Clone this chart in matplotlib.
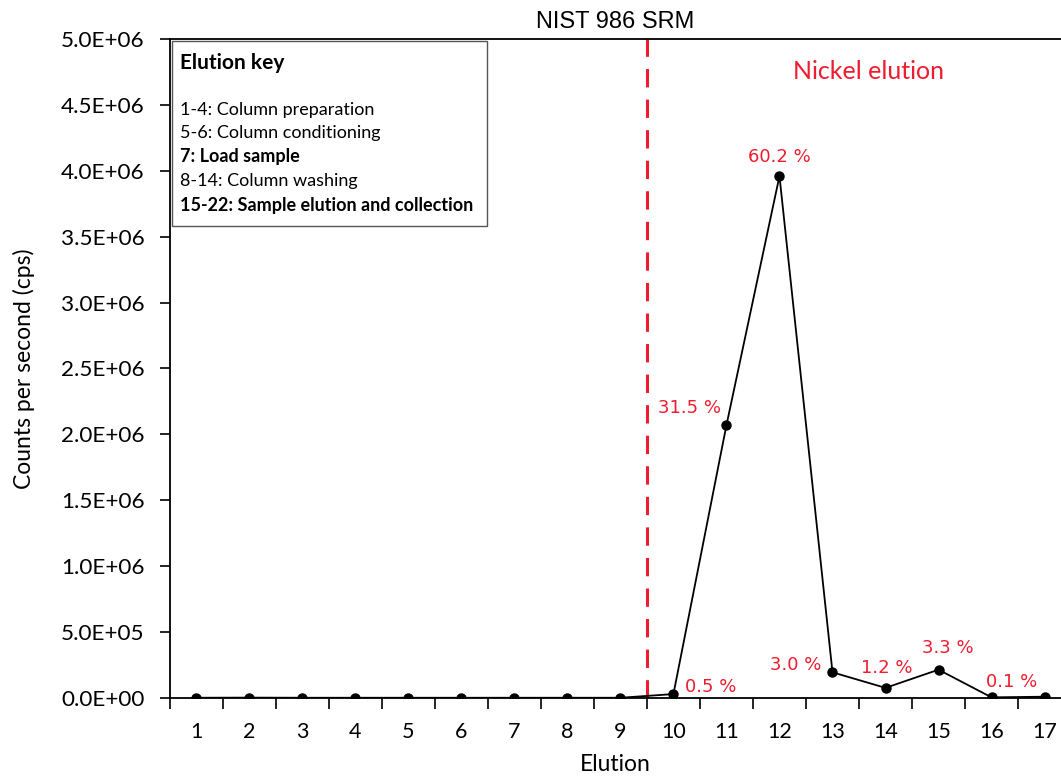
import matplotlib.pyplot as plt
from matplotlib.patches import Rectangle

# elution number vs counts per second (NIST 986 SRM)
elution = list(range(1, 18))
cps = [2e3, 3e3, 2e3, 2e3, 2e3, 2e3, 2e3, 2e3, 2e3,
       3.0e4, 2.07e6, 3.96e6, 1.95e5, 7.7e4, 2.15e5, 5e3, 1.0e4]
pct_x = [10, 11, 12, 13, 14, 15, 16]
pct_labels = ['0.5 %', '31.5 %', '60.2 %', '3.0 %', '1.2 %', '3.3 %', '0.1 %']
# label offsets in pixels (left edge dx, centre dy) relative to each point
pct_offsets = [(12, 7), (-68, 17), (-31, 19), (-62, 7), (-25, 20), (-17, 22), (-6, 15)]

key_lines = [('Elution key', 'bold'),
             ('1-4: Column preparation', 'normal'),
             ('5-6: Column conditioning', 'normal'),
             ('7: Load sample', 'bold'),
             ('8-14: Column washing', 'normal'),
             ('15-22: Sample elution and collection', 'bold')]
key_y = [0.9636, 0.892, 0.858, 0.821, 0.785, 0.748]

plt.rcParams['font.family'] = ['Lato', 'DejaVu Sans']

fig = plt.figure(figsize=(10.61, 7.78), dpi=100)
ax = fig.add_axes([0.160, 0.1028, 0.840, 0.8471])

ax.plot(elution, cps, color='black', lw=1.3, marker='o', ms=6.5, zorder=3)
ax.axvline(9.5, color='#ee1c2e', lw=2.2, ls=(0, (6, 4)), zorder=2)

red = '#ee1c2e'
for x, lab, off in zip(pct_x, pct_labels, pct_offsets):
    ax.annotate(lab, (x, cps[x - 1]), xytext=off, textcoords='offset pixels',
                color=red, fontsize=13, family='DejaVu Sans', ha='left', va='center')

ax.text(13.67, 4.75e6, 'Nickel elution', color=red, fontsize=18, ha='center', va='center')

yt = [i * 5e5 for i in range(11)]
ylabs = []
for v in yt:
    if v == 0:
        ylabs.append('0.0E+00')
    elif v < 1e6:
        ylabs.append('%.1fE+05' % (v / 1e5))
    else:
        ylabs.append('%.1fE+06' % (v / 1e6))

ax.set_xlim(0.5, 17.31)
ax.set_ylim(0, 5e6)
ax.set_yticks(yt)
ax.set_yticklabels(ylabs)
ax.set_xticks([i + 0.5 for i in range(0, 17)])
ax.set_xticklabels([])
ax.set_xticks(elution, minor=True)
ax.set_xticklabels([str(e) for e in elution], minor=True)
ax.tick_params(axis='x', which='major', length=8, width=1.2, direction='out')
ax.tick_params(axis='x', which='minor', length=0, labelsize=15.5, pad=17)
ax.tick_params(axis='y', length=7, width=1.2, labelsize=16.2, pad=11)

ax.spines['right'].set_visible(False)
for s in ['left', 'bottom', 'top']:
    ax.spines[s].set_linewidth(1.3)

ax.set_xlabel('Elution', fontsize=16.5, labelpad=9)
ax.set_ylabel('Counts per second (cps)', fontsize=16.5, labelpad=19)
ax.set_title('NIST 986 SRM', fontsize=17, family='Liberation Sans', pad=8)

ax.add_patch(Rectangle((0.002, 0.716), 0.354, 0.281, transform=ax.transAxes,
                       facecolor='white', edgecolor='#555555', lw=1.0, zorder=4))
for (txt, w), y in zip(key_lines, key_y):
    ax.text(0.011, y, txt, transform=ax.transAxes, fontsize=15 if txt == 'Elution key' else 13,
            fontweight=w, va='center', ha='left', zorder=5)

fig.savefig('out.png', dpi=100)
